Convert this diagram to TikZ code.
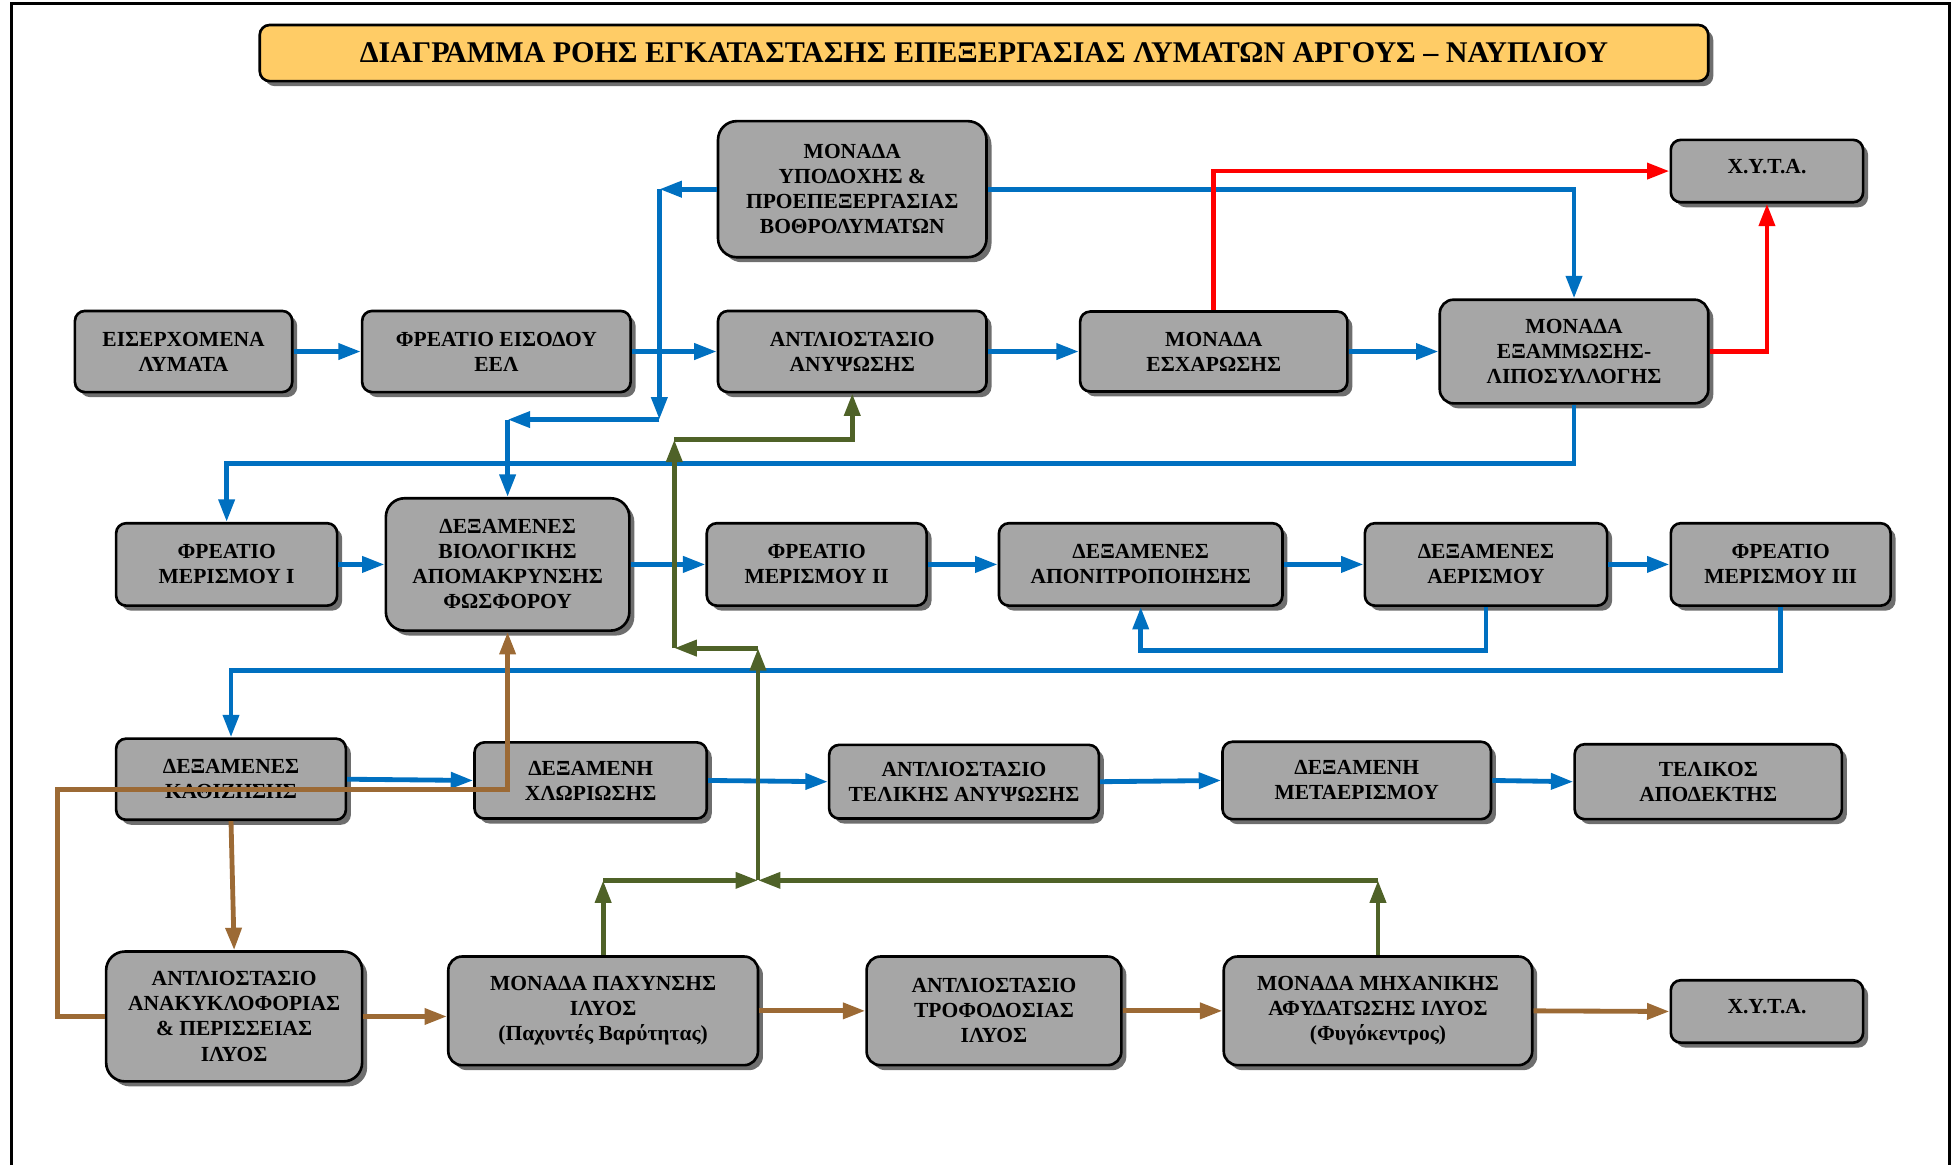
\documentclass[tikz,border=0pt]{standalone}
\usepackage{fontspec}
\setmainfont{Liberation Serif}
\usetikzlibrary{arrows.meta,shadows}

\definecolor{boxgray}{HTML}{A6A6A6}
\definecolor{shadowgray}{HTML}{6E6E6E}
\definecolor{flowblue}{HTML}{0070C0}
\definecolor{flowred}{HTML}{FF0000}
\definecolor{flowgreen}{HTML}{4F6228}
\definecolor{flowbrown}{HTML}{9C6A35}
\definecolor{titlefill}{HTML}{FFCC66}

\begin{document}
\begin{tikzpicture}[x=0.02cm,y=-0.02cm,
  stage/.style 2 args={draw=black, line width=1.2pt, fill=boxgray,
    rounded corners=0.16cm, inner sep=0pt, align=center,
    minimum width=#1*0.02cm, minimum height=#2*0.02cm,
    font=\fontsize{9.8}{11.4}\selectfont\bfseries,
    drop shadow={shadow xshift=0.08cm, shadow yshift=-0.08cm,
                 fill=shadowgray, opacity=1}},
  bigr/.style={rounded corners=0.3cm},
  midr/.style={rounded corners=0.22cm},
  flow/.style={line width=2.2pt, line join=miter,
    -{Triangle[length=0.36cm,width=0.25cm]}},
  blueflow/.style={flow, draw=flowblue},
  redflow/.style={flow, draw=flowred},
  greenflow/.style={flow, draw=flowgreen},
  brownflow/.style={flow, draw=flowbrown},
]
\useasboundingbox (0,0) rectangle (1568,933);

% page frame
\draw[line width=1.4pt] (9,933) -- (9,3) -- (1561,3) -- (1561,933);

% title banner
\node[stage={1160}{45}, fill=titlefill, font=\fontsize{13.7}{15}\selectfont\bfseries]
  (title) at (788,42.5) {ΔΙΑΓΡΑΜΜΑ ΡΟΗΣ ΕΓΚΑΤΑΣΤΑΣΗΣ ΕΠΕΞΕΡΓΑΣΙΑΣ ΛΥΜΑΤΩΝ ΑΡΓΟΥΣ – ΝΑΥΠΛΙΟΥ};

% inlet works and pretreatment
\node[stage={215}{109}, bigr] (ymonada) at (682.5,151.5)
  {ΜΟΝΑΔΑ\\ΥΠΟΔΟΧΗΣ \&\\ΠΡΟΕΠΕΞΕΡΓΑΣΙΑΣ\\ΒΟΘΡΟΛΥΜΑΤΩΝ};
\node[stage={174}{65}] (eiser) at (147,281.5) {ΕΙΣΕΡΧΟΜΕΝΑ\\ΛΥΜΑΤΑ};
\node[stage={215}{65}] (freisodou) at (397.5,281.5) {ΦΡΕΑΤΙΟ ΕΙΣΟΔΟΥ\\ΕΕΛ};
\node[stage={215}{65}] (antlanyps) at (682.5,281.5) {ΑΝΤΛΙΟΣΤΑΣΙΟ\\ΑΝΥΨΩΣΗΣ};
\node[stage={214}{64}] (escharosi) at (972,281.5) {ΜΟΝΑΔΑ\\ΕΣΧΑΡΩΣΗΣ};
\node[stage={215}{83}, midr] (examm) at (1260.5,281.5)
  {ΜΟΝΑΔΑ\\ΕΞΑΜΜΩΣΗΣ-\\ΛΙΠΟΣΥΛΛΟΓΗΣ};
\node[stage={154}{50}] (xyta1) at (1415,137) {\raisebox{0.16cm}{Χ.Υ.Τ.Α.}};

% biological treatment
\node[stage={177}{66}] (fm1) at (181.5,452) {ΦΡΕΑΤΙΟ\\ΜΕΡΙΣΜΟΥ Ι};
\node[stage={195}{106}, bigr] (biol) at (406.5,452)
  {ΔΕΞΑΜΕΝΕΣ\\ΒΙΟΛΟΓΙΚΗΣ\\ΑΠΟΜΑΚΡΥΝΣΗΣ\\ΦΩΣΦΟΡΟΥ};
\node[stage={176}{66}] (fm2) at (654,452) {ΦΡΕΑΤΙΟ\\ΜΕΡΙΣΜΟΥ ΙΙ};
\node[stage={227}{66}] (aponitr) at (913.5,452) {ΔΕΞΑΜΕΝΕΣ\\ΑΠΟΝΙΤΡΟΠΟΙΗΣΗΣ};
\node[stage={194}{66}] (aerism) at (1190,452) {ΔΕΞΑΜΕΝΕΣ\\ΑΕΡΙΣΜΟΥ};
\node[stage={176}{66}] (fm3) at (1426,452) {ΦΡΕΑΤΙΟ\\ΜΕΡΙΣΜΟΥ ΙΙΙ};

% settling, disinfection and discharge
\node[stage={184}{65}] (kath) at (185,624) {ΔΕΞΑΜΕΝΕΣ\\ΚΑΘΙΖΗΣΗΣ};
\node[stage={186}{61}] (chlor) at (473,625) {ΔΕΞΑΜΕΝΗ\\ΧΛΩΡΙΩΣΗΣ};
\node[stage={216}{59}] (teliki) at (772,626) {ΑΝΤΛΙΟΣΤΑΣΙΟ\\ΤΕΛΙΚΗΣ ΑΝΥΨΩΣΗΣ};
\node[stage={215}{62}] (metaer) at (1086.5,625) {ΔΕΞΑΜΕΝΗ\\ΜΕΤΑΕΡΙΣΜΟΥ};
\node[stage={214}{60}] (apod) at (1368,626) {ΤΕΛΙΚΟΣ\\ΑΠΟΔΕΚΤΗΣ};

% sludge line
\node[stage={205}{104}, bigr] (anakykl) at (187.5,814)
  {ΑΝΤΛΙΟΣΤΑΣΙΟ\\ΑΝΑΚΥΚΛΟΦΟΡΙΑΣ\\\& ΠΕΡΙΣΣΕΙΑΣ\\ΙΛΥΟΣ};
\node[stage={248}{87}, midr] (pachyn) at (483,809.5)
  {ΜΟΝΑΔΑ ΠΑΧΥΝΣΗΣ\\ΙΛΥΟΣ\\(Παχυντές Βαρύτητας)};
\node[stage={204}{87}, midr] (trofod) at (796,809.5)
  {ΑΝΤΛΙΟΣΤΑΣΙΟ\\ΤΡΟΦΟΔΟΣΙΑΣ\\ΙΛΥΟΣ};
\node[stage={247}{87}, midr] (afyd) at (1103.5,809.5)
  {ΜΟΝΑΔΑ ΜΗΧΑΝΙΚΗΣ\\ΑΦΥΔΑΤΩΣΗΣ ΙΛΥΟΣ\\(Φυγόκεντρος)};
\node[stage={154}{50}] (xyta2) at (1415,810) {\raisebox{0.16cm}{Χ.Υ.Τ.Α.}};

% junction points of the piping
\coordinate (sepA) at (528,151.5);
\coordinate (sepB) at (528,336);
\coordinate (sepC) at (406.5,336);
\coordinate (recA) at (46,632);
\coordinate (retJ) at (607,705);
\coordinate (retK) at (607,519);
\coordinate (retL) at (540,519);
\coordinate (retM) at (540,352);

% ---- wastewater line (blue)
\draw[blueflow] (eiser.east) -- (freisodou.west);
\draw[blueflow] (freisodou.east) -- (antlanyps.west);
\draw[blueflow] (antlanyps.east) -- (escharosi.west);
\draw[blueflow] (escharosi.east) -- (examm.west);
\draw[blueflow] (ymonada.east) -| (examm.north);
\draw[blueflow] (ymonada.west) -- (sepA);
\draw[blueflow] (sepA) -- (sepB);
\draw[blueflow] (sepB) -- (sepC);
\draw[blueflow] (sepC) -- (biol.north);
\draw[blueflow] (examm.south) -- (examm.south |- 0,371) -| (fm1.north);
\draw[blueflow] (fm1.east) -- (biol.west);
\draw[blueflow] (biol.east) -- (fm2.west);
\draw[blueflow] (fm2.east) -- (aponitr.west);
\draw[blueflow] (aponitr.east) -- (aerism.west);
\draw[blueflow] (aerism.east) -- (fm3.west);
\draw[blueflow] (aerism.south) -- (aerism.south |- 0,521) -| (aponitr.south);
\draw[blueflow] (fm3.south) -- (fm3.south |- 0,537) -| (kath.north);
\draw[blueflow] (kath.east) -- (chlor.west);
\draw[blueflow] (chlor.east) -- (teliki.west);
\draw[blueflow] (teliki.east) -- (metaer.west);
\draw[blueflow] (metaer.east) -- (apod.west);

% ---- screenings and grit to landfill (red)
\draw[redflow] (escharosi.north) |- (xyta1.west);
\draw[redflow] (examm.east) -| (xyta1.south);

% ---- sludge line (brown)
\draw[brownflow] (kath.south) -- (anakykl.north);
\draw[brownflow] (anakykl.east) -- (anakykl.east -| pachyn.west);
\draw[brownflow] (pachyn.east) -- (trofod.west);
\draw[brownflow] (trofod.east) -- (afyd.west);
\draw[brownflow] (afyd.east) -- (xyta2.west);
\draw[brownflow] (anakykl.west) -| (recA) -| (biol.south);

% ---- reject water return (green)
\draw[greenflow] (pachyn.north) -- (pachyn.north |- retJ);
\draw[greenflow] (pachyn.north |- retJ) -- (retJ);
\draw[greenflow] (afyd.north) -- (afyd.north |- retJ);
\draw[greenflow] (afyd.north |- retJ) -- (retJ);
\draw[greenflow] (retJ) -- (retK);
\draw[greenflow] (retK) -- (retL);
\draw[greenflow] (retL) -- (retM);
\draw[greenflow] (retM) -| (antlanyps.south);

\end{tikzpicture}
\end{document}
